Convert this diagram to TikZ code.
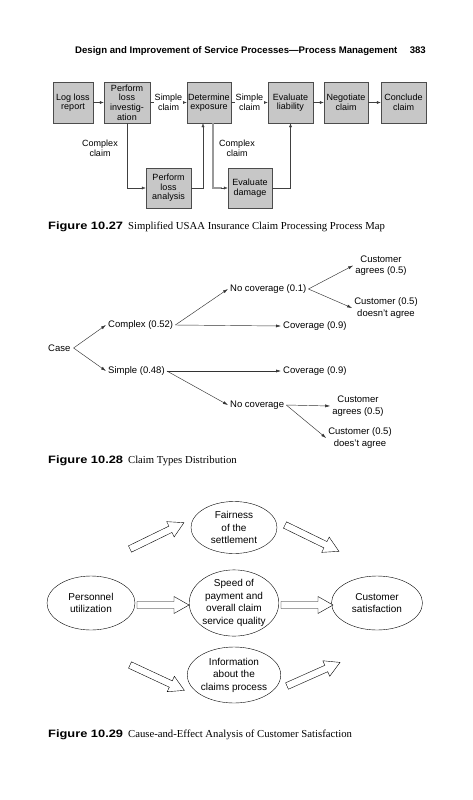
\documentclass[tikz,border=0pt]{standalone}
\usepackage{fontspec}
\setmainfont{Liberation Serif}
\setsansfont{Liberation Sans}
\newfontfamily\figlabel[FakeStretch=1.2]{Liberation Sans Bold}
\usetikzlibrary{arrows.meta,shapes.geometric}

\tikzset{
  procbox/.style={draw=black!70, fill=black!22, align=center, inner sep=1pt,
    minimum height=41, font=\sffamily\fontsize{9}{9.6}\selectfont},
  flowtip/.style={draw=black!75, -{Latex[length=4pt,width=3pt]}},
  flowlabel/.style={fill=white, align=center, inner sep=1pt, font=\sffamily\fontsize{9}{10}\selectfont},
  treenode/.style={align=center, inner sep=2pt, font=\sffamily\fontsize{9.5}{11.5}\selectfont},
  treetip/.style={draw=black!80, line width=0.45pt, -{Latex[length=5pt,width=3pt]}},
  cause/.style={draw, ellipse, line width=0.4pt, align=center, inner sep=0pt,
    font=\sffamily\fontsize{10}{12.5}\selectfont},
  hollow/.pic={\draw[line width=0.4pt, fill=white]
    (0,-3.5) -- (#1-15,-3.5) -- (#1-15,-8.5) -- (#1,0) -- (#1-15,8.5) -- (#1-15,3.5) -- (0,3.5) -- cycle;},
  caption/.style={anchor=base west, inner sep=0pt, font=\fontsize{10.7}{12}\selectfont}
}

\begin{document}
\begin{tikzpicture}[x=1pt, y=-1pt]
  \fill[white] (0,0) rectangle (472,800);

  % Page header
  \node[anchor=base west, inner sep=0pt, font=\sffamily\bfseries\fontsize{9.6}{11}\selectfont] (head) at (75,53)
    {Design and Improvement of Service Processes---Process Management};
  \node[anchor=base east, inner sep=0pt, font=\sffamily\bfseries\fontsize{9.6}{11}\selectfont] (page) at (426,53) {383};

  % Figure 10.27: process map
  \node[procbox, minimum width=40] (logloss) at (73,102.5) {Log loss\\report};
  \node[procbox, minimum width=46] (investig) at (127,102.5) {Perform\\loss\\investig-\\ation};
  \node[procbox, minimum width=44] (exposure) at (209,102.5) {Determine\\exposure};
  \node[procbox, minimum width=45] (liability) at (290.5,102.5) {Evaluate\\liability};
  \node[procbox, minimum width=44] (negotiate) at (346,102.5) {Negotiate\\claim};
  \node[procbox, minimum width=45] (conclude) at (403.5,102.5) {Conclude\\claim};
  \node[procbox, minimum width=45, minimum height=40] (analysis) at (168.5,188) {Perform\\loss\\analysis};
  \node[procbox, minimum width=44, minimum height=40] (damage) at (250,188) {Evaluate\\damage};

  \draw[flowtip] (logloss) -- (investig);
  \draw[flowtip] (investig) -- node[flowlabel] {Simple\\claim} (exposure);
  \draw[flowtip] (exposure) -- node[flowlabel] {Simple\\claim} (liability);
  \draw[flowtip] (liability) -- (negotiate);
  \draw[flowtip] (negotiate) -- (conclude);
  \draw[flowtip] (investig.south) |- (analysis.west);
  \draw[flowtip] (analysis.east) -| ([xshift=-6]exposure.south);
  \draw[black!40, line width=1.2pt] ([xshift=4]exposure.south) |- ([xshift=-6]damage.west);
  \draw[flowtip] ([xshift=-7]damage.west) -- (damage.west);
  \draw[flowtip] (damage.east) -| (liability.south);
  \node[flowlabel, fill=none] (cplx1) at (100,148) {Complex\\claim};
  \node[flowlabel, fill=none] (cplx2) at (237,148) {Complex\\claim};

  \node[caption] (cap1) at (48,229) {\figlabel Figure 10.27\hspace{5pt}\rmfamily\mdseries Simplified USAA Insurance Claim Processing Process Map};

  % Figure 10.28: claim types tree
  \node[treenode, anchor=west] (case) at (46,348) {Case};
  \node[treenode, anchor=west] (complex) at (106,325) {Complex (0.52)};
  \node[treenode, anchor=west] (simple) at (106,371) {Simple (0.48)};
  \node[treenode, anchor=west] (nocov1) at (228,289) {No coverage (0.1)};
  \node[treenode, anchor=west] (cov1) at (281,326) {Coverage (0.9)};
  \node[treenode, anchor=west] (cov2) at (281,371) {Coverage (0.9)};
  \node[treenode] (agree1) at (381,265.5) {Customer\\agrees (0.5)};
  \node[treenode] (disagree1) at (386,308) {Customer (0.5)\\doesn't agree};
  \node[treenode, anchor=west] (nocov2) at (228,405) {No coverage};
  \node[treenode] (agree2) at (358,406) {Customer\\agrees (0.5)};
  \node[treenode] (disagree2) at (360,438) {Customer (0.5)\\does't agree};

  \coordinate (fork) at ([xshift=1]case.east);
  \draw[treetip] (fork) -- (complex.west);
  \draw[treetip] (fork) -- (simple.west);
  \draw[treetip] (complex.east) -- (nocov1.west);
  \draw[treetip] (complex.east) -- (cov1.west);
  \draw[treetip] (nocov1.east) -- (agree1.west);
  \draw[treetip] (nocov1.east) -- (disagree1.west);
  \draw[treetip] (simple.east) -- (cov2.west);
  \draw[treetip] (simple.east) -- (nocov2.west);
  \draw[treetip] (nocov2.east) -- (agree2.west);
  \draw[treetip] (nocov2.east) -- (disagree2.west);

  \node[caption] (cap2) at (48,463) {\figlabel Figure 10.28\hspace{5pt}\rmfamily\mdseries Claim Types Distribution};

  % Figure 10.29: cause and effect
  \node[cause, minimum width=86, minimum height=52] (fairness) at (234,527.5) {Fairness\\of the\\settlement};
  \node[cause, minimum width=88, minimum height=54] (personnel) at (91,603) {Personnel\\utilization};
  \node[cause, minimum width=88, minimum height=57] (speed) at (234,603) {Speed of\\payment and\\overall claim\\service quality};
  \node[cause, minimum width=91, minimum height=54] (custsat) at (377,603) {Customer\\satisfaction};
  \node[cause, minimum width=86, minimum height=56] (info) at (234,675) {Information\\about the\\claims process};

  \pic[rotate=26] at (130,549) {hollow=60};
  \pic[rotate=-26] at (285,525) {hollow=60};
  \pic at (137,605) {hollow=52};
  \pic at (281,605) {hollow=52};
  \pic[rotate=-25] at (130,665) {hollow=60};
  \pic[rotate=24] at (287,686) {hollow=58};

  \node[caption] (cap3) at (48,737) {\figlabel Figure 10.29\hspace{5pt}\rmfamily\mdseries Cause-and-Effect Analysis of Customer Satisfaction};
\end{tikzpicture}
\end{document}
